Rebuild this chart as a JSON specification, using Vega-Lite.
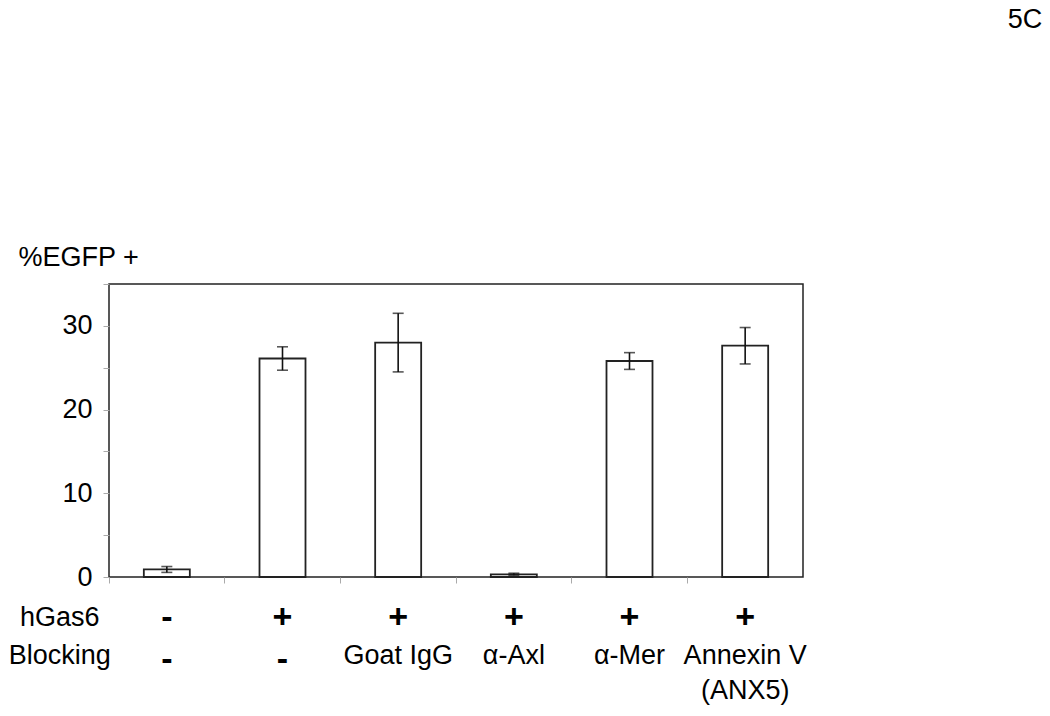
{
  "$schema": "https://vega.github.io/schema/vega-lite/v6.json",
  "autosize": {"type": "none"},
  "width": 694,
  "height": 293,
  "padding": {"left": 109, "top": 284, "right": 247, "bottom": 139},
  "background": "white",
  "config": {
    "font": "Liberation Sans",
    "view": {"stroke": "#222222", "strokeWidth": 1.5}
  },
  "data": {
    "values": [
      {"cond": "c1", "gas6": "-", "blocking": "-", "value": 0.9, "lo": 0.55, "hi": 1.25},
      {"cond": "c2", "gas6": "+", "blocking": "-", "value": 26.1, "lo": 24.7, "hi": 27.5},
      {"cond": "c3", "gas6": "+", "blocking": "Goat IgG", "value": 28.0, "lo": 24.5, "hi": 31.5},
      {"cond": "c4", "gas6": "+", "blocking": "α-Axl", "value": 0.32, "lo": 0.2, "hi": 0.45},
      {"cond": "c5", "gas6": "+", "blocking": "α-Mer", "value": 25.8, "lo": 24.8, "hi": 26.8},
      {"cond": "c6", "gas6": "+", "blocking": "Annexin V\n(ANX5)", "value": 27.65, "lo": 25.45, "hi": 29.8}
    ]
  },
  "layer": [
    {
      "mark": {"type": "bar", "size": 46, "fill": "white", "stroke": "#222222", "strokeWidth": 1.8},
      "encoding": {
        "x": {
          "field": "cond", "type": "nominal", "sort": null,
          "scale": {"type": "band", "paddingInner": 0, "paddingOuter": 0},
          "axis": {"labels": false, "title": null, "domain": false, "ticks": true, "tickColor": "#aaaaaa", "tickSize": 6, "bandPosition": 0, "grid": false}
        },
        "y": {
          "field": "value", "type": "quantitative",
          "scale": {"domain": [0, 35], "nice": false, "zero": true},
          "axis": {
            "values": [0, 5, 10, 15, 20, 25, 30, 35],
            "labelExpr": "(datum.value % 10 == 0 && datum.value < 35) ? datum.label : ''",
            "title": "%EGFP +",
            "titleAngle": 0,
            "titleAlign": "left",
            "titleBaseline": "alphabetic",
            "titleX": -91,
            "titleY": -19,
            "titleFontSize": 27,
            "titleFontWeight": "normal",
            "titleColor": "#000000",
            "titleFont": "Liberation Sans",
            "labelFontSize": 27,
            "labelColor": "#000000",
            "labelFont": "Liberation Sans",
            "labelPadding": 11,
            "tickSize": 6,
            "tickColor": "#aaaaaa",
            "domain": false,
            "grid": false
          }
        }
      }
    },
    {
      "mark": {"type": "rule", "color": "#111111", "strokeWidth": 1.6},
      "encoding": {
        "x": {"field": "cond", "type": "nominal", "sort": null},
        "y": {"field": "lo", "type": "quantitative"},
        "y2": {"field": "hi"}
      }
    },
    {
      "mark": {"type": "tick", "color": "#111111", "size": 11, "thickness": 1.6},
      "encoding": {
        "x": {"field": "cond", "type": "nominal", "sort": null},
        "y": {"field": "lo", "type": "quantitative"}
      }
    },
    {
      "mark": {"type": "tick", "color": "#111111", "size": 11, "thickness": 1.6},
      "encoding": {
        "x": {"field": "cond", "type": "nominal", "sort": null},
        "y": {"field": "hi", "type": "quantitative"}
      }
    },
    {
      "mark": {"type": "text", "fontSize": 34, "fontWeight": "bold", "font": "Liberation Sans", "color": "#000000", "baseline": "alphabetic", "align": "center"},
      "encoding": {
        "x": {"field": "cond", "type": "nominal", "sort": null},
        "y": {"datum": -6.09, "type": "quantitative"},
        "text": {"field": "gas6"}
      }
    },
    {
      "transform": [{"filter": "datum.blocking == '-'"}],
      "mark": {"type": "text", "fontSize": 34, "fontWeight": "bold", "font": "Liberation Sans", "color": "#000000", "baseline": "alphabetic", "align": "center"},
      "encoding": {
        "x": {"field": "cond", "type": "nominal", "sort": null},
        "y": {"datum": -11.05, "type": "quantitative"},
        "text": {"field": "blocking"}
      }
    },
    {
      "transform": [{"filter": "datum.blocking != '-'"}],
      "mark": {"type": "text", "fontSize": 27, "font": "Liberation Sans", "color": "#000000", "baseline": "alphabetic", "align": "center", "lineBreak": "\n", "lineHeight": 35},
      "encoding": {
        "x": {"field": "cond", "type": "nominal", "sort": null},
        "y": {"datum": -10.39, "type": "quantitative"},
        "text": {"field": "blocking"}
      }
    },
    {
      "data": {"values": [{"rowlabel": "hGas6", "row": "a"}]},
      "mark": {"type": "text", "fontSize": 27, "font": "Liberation Sans", "color": "#000000", "baseline": "alphabetic", "align": "center", "dx": -107},
      "encoding": {
        "x": {"datum": "c1", "type": "nominal"},
        "y": {"datum": -5.85, "type": "quantitative"},
        "text": {"field": "rowlabel"}
      }
    },
    {
      "data": {"values": [{"rowlabel": "Blocking", "row": "b"}]},
      "mark": {"type": "text", "fontSize": 27, "font": "Liberation Sans", "color": "#000000", "baseline": "alphabetic", "align": "center", "dx": -107},
      "encoding": {
        "x": {"datum": "c1", "type": "nominal"},
        "y": {"datum": -10.39, "type": "quantitative"},
        "text": {"field": "rowlabel"}
      }
    },
    {
      "data": {"values": [{"panel": "5C"}]},
      "mark": {"type": "text", "fontSize": 27, "font": "Liberation Sans", "color": "#000000", "baseline": "alphabetic", "align": "right", "dx": 297, "dy": -256},
      "encoding": {
        "x": {"datum": "c6", "type": "nominal"},
        "y": {"datum": 35, "type": "quantitative"},
        "text": {"field": "panel"}
      }
    }
  ]
}
